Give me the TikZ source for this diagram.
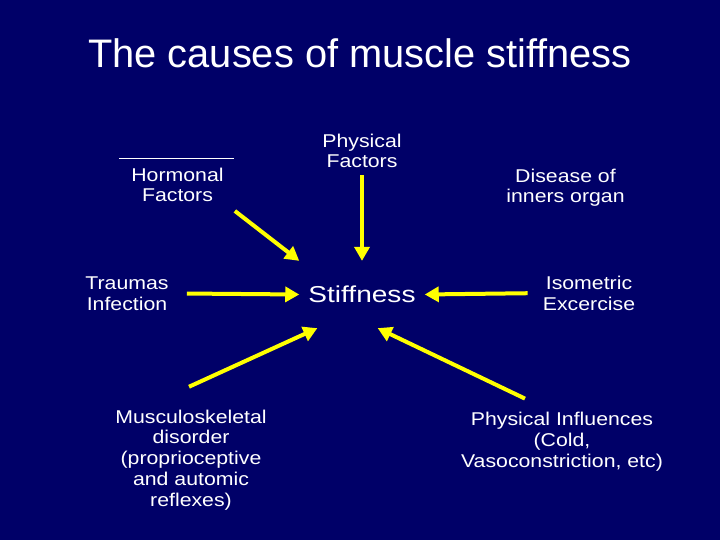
\documentclass[tikz,border=0pt]{standalone}
\usepackage{fontspec}
\setmainfont{Liberation Sans}
\newfontfamily\labelfont[FakeStretch=1.15]{Liberation Sans}
\newfontfamily\stifffont[FakeStretch=1.22]{Liberation Sans}
\usetikzlibrary{arrows.meta}
\definecolor{slideBlue}{RGB}{0,0,104}
\definecolor{slideYellow}{RGB}{255,255,0}
\tikzset{
  causebox/.style={
    text=white, align=center, inner sep=0pt, anchor=base,
    font=\labelfont\fontsize{18.5}{20.7}\selectfont},
  centerbox/.style={
    text=white, inner xsep=9pt, inner ysep=25pt,
    font=\stifffont\fontsize{23}{26}\selectfont},
  titlebox/.style={
    text=white, inner sep=0pt, anchor=base,
    font=\fontsize{39.8}{44}\selectfont},
  arrowline/.style={-{Triangle[length=14pt,width=15pt]}, line width=4pt, draw=slideYellow}
}

\begin{document}
\begin{tikzpicture}[x=1pt,y=-1pt]

    % ---- slide background --------------------------------------
    \fill[slideBlue] (0,0) rectangle (720,540);
    \useasboundingbox (0,0) rectangle (720,540);

    \node[titlebox] (title) at (360,68) {The causes of muscle stiffness};

    % ---- causes (placed at the baseline of their last line) -----
    \node[causebox] (phys)  at (362,168)   {Physical\\Factors};
    \node[causebox] (horm)  at (177.5,202) {Hormonal\\Factors};
    \node[causebox] (dis)   at (565.5,203) {Disease of\\inners organ};
    \node[causebox] (trau)  at (127,310)   {Traumas\\Infection};
    \node[causebox] (iso)   at (589,310)   {Isometric\\Excercise};
    \node[causebox] (musc)  at (191,506)
      {Musculoskeletal\\disorder\\(proprioceptive\\and automic\\reflexes)};
    \node[causebox] (infl)  at (562,467)
      {Physical Influences\\(Cold,\\Vasoconstriction, etc)};

    \draw[white, line width=1pt] (119,159) -- (234,159);

    % ---- centre ------------------------------------------------
    \node[centerbox] (stiff) at (362,294.5) {Stiffness};

    % ---- arrows into the centre --------------------------------
    \draw[arrowline, shorten <=14pt] (horm.south east) -- (stiff.north west);
    \draw[arrowline, shorten <=7pt]  (phys.south)      -- (stiff.north);
    \draw[arrowline, shorten <=18pt] (trau.east)       -- (stiff.west);
    \draw[arrowline, shorten <=15pt] (iso.west)        -- (stiff.east);
    \draw[arrowline, shorten <=55pt] (musc.136)        -- (stiff.217);
    \draw[arrowline, shorten <=31pt] (infl.107)        -- (stiff.295);

\end{tikzpicture}
\end{document}
